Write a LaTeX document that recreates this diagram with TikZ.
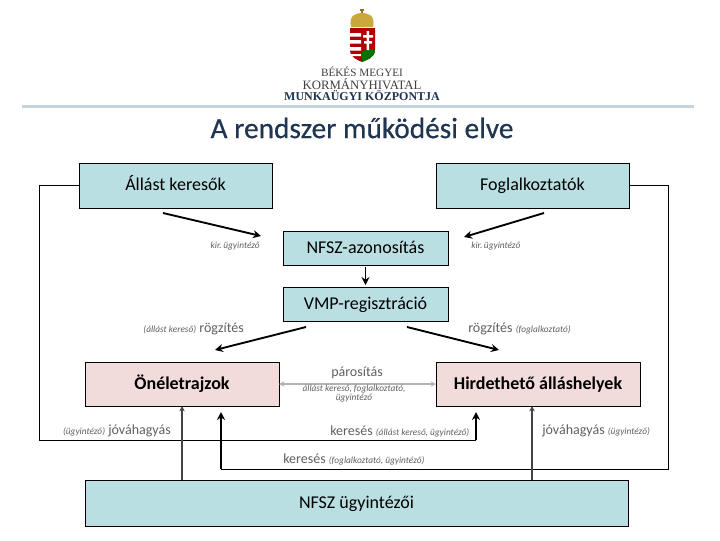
\documentclass[tikz,border=0pt]{standalone}
\usepackage{fontspec}
\setmainfont{Carlito}
\newfontfamily\headfont{Liberation Serif}
\newfontfamily\titlefont[FakeBold=0.5]{Carlito}
\usetikzlibrary{calc, arrows.meta, positioning, shapes.geometric}
\definecolor{boxblue}{HTML}{BADFE3}
\definecolor{boxpink}{HTML}{F2DCDB}
\definecolor{rulecol}{HTML}{C5D3DC}
\definecolor{titlecol}{HTML}{1F3550}
\definecolor{labelcol}{HTML}{5F5F5F}
\definecolor{midgray}{HTML}{444444}
\definecolor{lightline}{HTML}{B3B3B3}
\definecolor{crowngold}{HTML}{C9A83C}
\newcommand{\note}[1]{{\fontsize{7pt}{8pt}\selectfont\itshape #1}}

\begin{document}
\begin{tikzpicture}[x=0.75pt, y=-0.75pt, font=\fontsize{13.5pt}{16pt}\selectfont,
    blk/.style={draw, line width=0.6pt, inner sep=0pt, outer sep=0pt, text height=10pt, text depth=2pt},
    lbl/.style={text=labelcol, inner sep=0pt, font=\fontsize{10.5pt}{12pt}\selectfont},
    arr/.style={-{Stealth[length=6pt, width=6pt]}, line width=1.4pt},
    thinline/.style={line width=0.75pt},
    loopend/.style={line width=1.5pt, -{Stealth[length=6pt, width=6pt]}},
    fromstaff/.style={-{Stealth[length=4pt, width=4pt]}, line width=1.4pt, draw=midgray}]
    \useasboundingbox (0,0) rectangle (720,540);
    % logo
    \node[inner sep=0pt, font=\headfont\fontsize{8.4pt}{9pt}\selectfont, text=black!75] (megye) at (362,72) {BÉKÉS MEGYEI};
    \node[inner sep=0pt, font=\headfont\fontsize{9.6pt}{10pt}\selectfont, text=black!75, below=1.2pt of megye] (hivatal) {KORMÁNYHIVATAL};
    \node[inner sep=0pt, font=\headfont\bfseries\fontsize{9pt}{10pt}\selectfont, text=titlecol, below=0.2pt of hivatal] (kozpont) {MUNKAÜGYI KÖZPONTJA};
    \fill[red!70!black] (350,28) -- (375,28) -- (375,50) .. controls (375,58) and (366,60) .. (362,62) .. controls (358,60) and (350,58) .. (350,50) -- cycle;
    \fill[white] (350,33) rectangle (361,36.5) (350,40) rectangle (361,43.5) (350,47) rectangle (361,50.5) (351,54) rectangle (361,56);
    \fill[green!45!black] (362,62) .. controls (366,60) and (375,58) .. (375,50) .. controls (371,48) and (366,49) .. (362,52) -- cycle;
    \fill[white] (366.5,31) rectangle (369,50) (363,35) rectangle (373,37.5) (364,41) rectangle (372,43.5);
    \fill[crowngold] (351,27) .. controls (348,14) and (358,13) .. (362,13) .. controls (366,13) and (376,14) .. (373,27) -- cycle;
    \draw[crowngold!70!black, line width=0.8pt] (362,13) -- (362,9) (360,10) -- (364,10);
    \draw[draw=rulecol, line width=2.2pt] (22,106.5) -- (694,106.5);
    \node[font=\titlefont\fontsize{22pt}{26pt}\selectfont, text=titlecol, inner sep=0pt] (title) at (362,128) {A rendszer működési elve};
    % boxes
    \node[blk, fill=boxblue, minimum width=144.75pt, minimum height=33.75pt] (allas) at (175.5,185.5) {Állást keresők};
    \node[blk, fill=boxblue, minimum width=144.75pt, minimum height=33.75pt, right=123pt of allas] (fogl) {Foglalkoztatók};
    \node[blk, fill=boxblue, minimum width=123.75pt, minimum height=25.5pt, below right=17.25pt and 8.25pt of allas] (azon) {NFSZ-azonosítás};
    \node[blk, fill=boxblue, minimum width=123.75pt, minimum height=25.5pt, below=16.5pt of azon] (vmp) {VMP-regisztráció};
    \node[blk, fill=boxpink, minimum width=145.5pt, minimum height=33pt, below left=30.75pt and 3pt of vmp] (cv) {\bfseries Önéletrajzok};
    \node[blk, fill=boxpink, minimum width=153pt, minimum height=33pt, right=117.75pt of cv] (hird) {\bfseries Hirdethető álláshelyek};
    \node[blk, fill=boxblue, minimum width=407.25pt, minimum height=34.5pt, below=55.5pt of cv.south west, anchor=north west] (staff) {NFSZ ügyintézői};
    % free ends
    \coordinate (a1) at (163,213); \coordinate (a2) at (261,236);
    \coordinate (b1) at (544,213); \coordinate (b2) at (464,237);
    \coordinate (c1) at (306,327); \coordinate (c2) at (215,350);
    \coordinate (d1) at (407,327); \coordinate (d2) at (499,350);
    \coordinate (e0) at (476,440); \coordinate (e1) at (476,412);
    \coordinate (f0) at (221,469); \coordinate (f1) at (221,412);
    \draw[arr] (a1) -- (a2);
    \draw[arr] (b1) -- (b2);
    \draw[arr] (c1) -- (c2);
    \draw[arr] (d1) -- (d2);
    \draw[arr, shorten >=1.5pt, shorten <=1.5pt, line width=1.2pt] (azon) -- (vmp);
    \draw[thinline] (allas.west) -- (39,185.5) -- (39,440) -- (e0);
    \draw[loopend] (e0) -- (e1);
    \draw[thinline] (fogl.east) -- (668,185.5) -- (668,469) -- (f0);
    \draw[loopend] (f0) -- (f1);
    \draw[fromstaff] (182,480) -- (182,406);
    \draw[fromstaff] (532,480) -- (532,406);
    \draw[{Stealth[length=4pt, width=4pt]}-{Stealth[length=4pt, width=4pt]}, draw=lightline, line width=1.4pt] (cv) -- (hird);
    % labels
    \node[lbl, anchor=east] (l1) at (260,246) {\note{kir.\,ügyintéző}};
    \node[lbl, anchor=west] (l2) at (471,246) {\note{kir.\,ügyintéző}};
    \node[lbl, anchor=east] (l3) at (244,329) {\note{(állást kereső)} rögzítés};
    \node[lbl, anchor=west] (l4) at (468,329) {rögzítés \note{(foglalkoztató)}};
    \node[lbl] (l5) at (357,373) {párosítás};
    \node[lbl, align=center, font=\fontsize{7pt}{7pt}\selectfont\itshape] (l6) at (354,393.5) {állást kereső, foglalkoztató,\\ügyintéző};
    \node[lbl, anchor=east] (l7) at (171,431) {\note{(ügyintéző)} jóváhagyás};
    \node[lbl, anchor=west] (l8) at (330,431) {keresés \note{(állást kereső, ügyintéző)}};
    \node[lbl, anchor=west] (l9) at (283,459) {keresés \note{(foglalkoztató, ügyintéző)}};
    \node[lbl, anchor=west] (l10) at (542,431) {jóváhagyás \note{(ügyintéző)}};
\end{tikzpicture}
\end{document}
